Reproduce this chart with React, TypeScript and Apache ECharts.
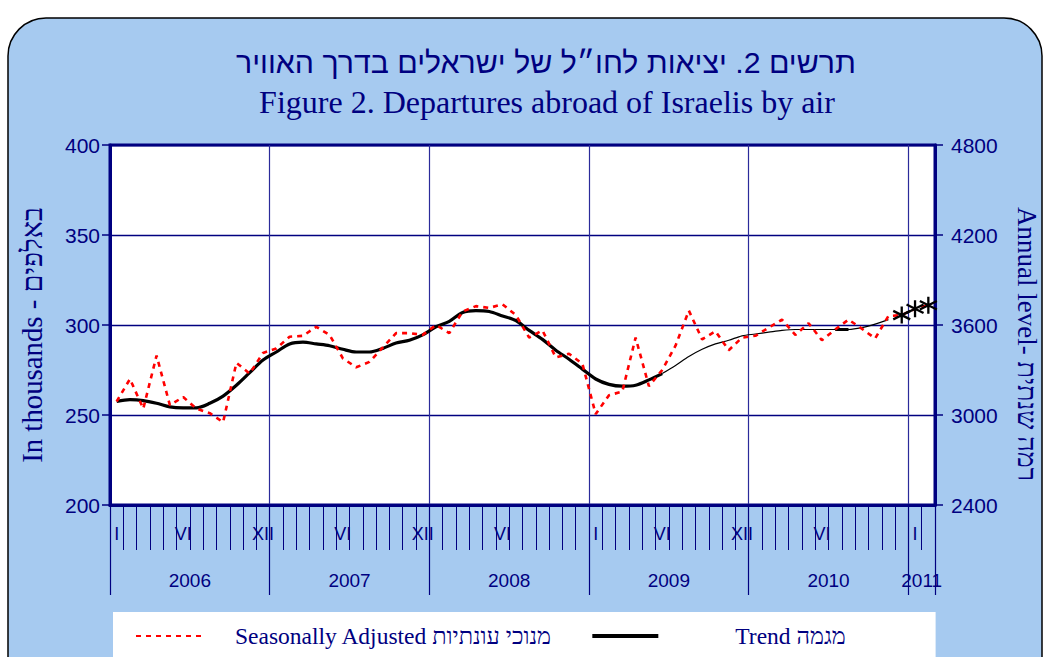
import React, { useEffect, useRef } from 'react';
import * as echarts from 'echarts';

const titleHe = 'תרשים 2. יציאות לחו״ל של ישראלים בדרך האוויר';
const titleEn = 'Figure 2. Departures abroad of Israelis by air';
const leftAxisName = 'In thousands - באלפים';
const rightAxisName = 'Annual level- רמה שנתית';
const saName = 'Seasonally Adjusted מנוכי עונתיות';
const trendName = 'Trend מגמה';

const years = ['2006', '2007', '2008', '2009', '2010', '2011'];
const monthsPerYear = [12, 12, 12, 12, 12, 2];

const monthTickLabels = [
  'I', '', '', '', '', 'VI', '', '', '', '', '', 'XII',
  '', '', '', '', '', 'VI', '', '', '', '', '', 'XII',
  '', '', '', '', '', 'VI', '', '', '', '', '', '',
  'I', '', '', '', '', 'VI', '', '', '', '', '', 'XII',
  '', '', '', '', '', 'VI', '', '', '', '', '', '',
  'I', '',
];

// seasonally adjusted, thousands, Jan 2006 .. Feb 2011
const seasonallyAdjusted = [
  257.5, 270, 253.5, 283, 255.5, 260, 253.5, 251, 246, 279, 273, 284.5,
  287, 293.5, 294, 299, 294.5, 281.5, 276.5, 279.5, 287.5, 295.5, 295.5, 294.5,
  300, 295.5, 307.5, 310.5, 309.5, 311.5, 305.5, 293, 297, 282, 284, 278.5,
  250.5, 261, 263, 293, 266, 275, 288.5, 308, 292, 296.5, 286, 293,
  294, 298.5, 303, 294.5, 301, 291.5, 297.5, 303, 298, 292.5, 305, 305.5,
  309, 311,
];

// trend, Jan 2006 .. Nov 2010
const trend = [
  257.5, 258.5, 258, 256.5, 254.5, 254, 254, 256.5, 260.5, 266.5, 273.5, 280.5,
  285, 289.5, 290.5, 289.5, 288.5, 286.5, 285, 285, 287, 290, 291.5, 294.5,
  299, 302, 307, 308, 307.5, 305, 302.5, 297, 292, 286, 281, 275.5,
  270, 267, 266, 266.5, 269.5, 273, 277.5, 282.5, 286.5, 289.5, 291.5, 294,
  295, 296, 297, 297.5, 297.5, 297.5, 297.5, 297.5, 298.5, 300.5, 303,
];

// trend estimates, Dec 2010 .. Feb 2011 (asterisks)
const trendEstimates = [305.5, 309, 311];

const NAVY = '#000080';

export default function App() {
  const ref = useRef<HTMLDivElement>(null);
  useEffect(() => {
    const chart = echarts.init(ref.current!, null, { renderer: 'svg' });
    const months: string[] = [];
    years.forEach((y, k) => {
      for (let m = 1; m <= monthsPerYear[k]; m++) months.push(y + '-' + m);
    });
    const n = months.length;
    const boundaries = Array.from({ length: n + 1 }, (_, i) => 'b' + i);
    const yearStart: number[] = [];
    let acc = 0;
    monthsPerYear.forEach((c) => { yearStart.push(acc); acc += c; });
    const yearBoundary = new Set<number>([...yearStart, n]);
    const yearCenter = new Map<number, string>();
    years.forEach((y, k) => yearCenter.set(yearStart[k] + monthsPerYear[k] / 2, y));

    const thickEnd = 41;
    const thickTrend = trend.map((v, i) => (i <= thickEnd || i === 54 || i === 55 ? v : null));
    const thinTrend = trend.map((v, i) => (i >= thickEnd ? v : null));
    const estData = trendEstimates.map((v, k) => [n - trendEstimates.length + k, v]);

    const legendText = { fontFamily: '"Liberation Serif", serif', fontSize: 23.5, color: NAVY };

    const option: any = {
      animation: false,
      graphic: [
        {
          type: 'rect', z: -10, silent: true,
          shape: { x: 8, y: 18, width: 1034, height: 720, r: 38 },
          style: { fill: '#A6CAF0', stroke: '#000', lineWidth: 1.5 },
        },
        {
          type: 'text', x: 546, y: 62,
          style: {
            text: titleHe, fill: NAVY, fontSize: 30.3, fontFamily: '"Liberation Sans", "DejaVu Sans", sans-serif',
            align: 'center', verticalAlign: 'middle', textAlign: 'center', textVerticalAlign: 'middle',
          },
        },
        {
          type: 'text', x: 547, y: 102,
          style: {
            text: titleEn, fill: NAVY, fontSize: 32, fontFamily: '"Liberation Serif", serif',
            align: 'center', verticalAlign: 'middle', textAlign: 'center', textVerticalAlign: 'middle',
          },
        },
      ],
      grid: {
        left: 110, right: 110, top: 145, bottom: 152,
        outerBoundsMode: 'none',
        show: true, backgroundColor: '#fff', borderColor: NAVY, borderWidth: 3,
      },
      legend: {
        left: 113, top: 612,
        backgroundColor: '#fff',
        padding: [12, 90, 24, 22],
        itemWidth: 66, itemHeight: 14, itemGap: 38,
        selectedMode: false,
        itemStyle: { opacity: 0 },
        textStyle: { ...legendText, padding: [0, 0, 0, 28] },
        data: [
          { name: saName },
          {
            name: trendName,
            lineStyle: { width: 4, color: '#000', type: 'solid' },
            textStyle: { ...legendText, padding: [0, 0, 0, 72] },
          },
        ],
      },
      xAxis: [
        {
          type: 'category', data: months, boundaryGap: true, position: 'bottom',
          axisLine: { show: true, lineStyle: { color: NAVY, width: 3 } },
          axisTick: { show: true, interval: 0, length: 45, lineStyle: { color: NAVY, width: 1 } },
          axisLabel: {
            interval: 0, margin: 20, color: NAVY, fontSize: 18,
            fontFamily: '"Liberation Sans", Arial, sans-serif',
            formatter: (_v: string, i: number) => monthTickLabels[i],
          },
          splitLine: { show: false },
        },
        {
          type: 'category', data: boundaries, boundaryGap: false, position: 'bottom',
          axisLine: { show: false },
          axisTick: {
            show: true, length: 90, lineStyle: { color: NAVY, width: 1.2 },
            interval: (i: number) => yearBoundary.has(i),
          },
          axisLabel: {
            margin: 66, color: NAVY, fontSize: 19,
            fontFamily: '"Liberation Sans", Arial, sans-serif',
            interval: (i: number) => yearCenter.has(i),
            formatter: (_v: string, i: number) => yearCenter.get(i) || '',
          },
          splitLine: {
            show: true, lineStyle: { color: '#2b2b9a', width: 1.2 },
            interval: (i: number) => yearBoundary.has(i) && i !== 0 && i !== n,
          },
        },
      ],
      yAxis: [
        {
          type: 'value', min: 200, max: 400, interval: 50, position: 'left',
          axisLine: { show: true, lineStyle: { color: NAVY, width: 3 } },
          axisTick: { show: true, length: 8, lineStyle: { color: NAVY, width: 1.5 } },
          axisLabel: { color: NAVY, fontSize: 21, margin: 10, fontFamily: '"Liberation Sans", Arial, sans-serif' },
          splitLine: { show: true, lineStyle: { color: NAVY, width: 1.4 } },
          name: leftAxisName, nameLocation: 'middle', nameGap: 64, nameRotate: 90,
          nameTextStyle: { color: NAVY, fontSize: 28.8, fontFamily: '"Liberation Serif", serif', padding: [0, 20, 0, 0] },
        },
        {
          type: 'value', min: 2400, max: 4800, interval: 600, position: 'right',
          axisLine: { show: true, lineStyle: { color: NAVY, width: 3 } },
          axisTick: { show: true, length: 8, lineStyle: { color: NAVY, width: 1.5 } },
          axisLabel: {
            color: NAVY, fontSize: 21, margin: 16, fontFamily: '"Liberation Sans", Arial, sans-serif',
            formatter: (v: number) => String(v),
          },
          splitLine: { show: false },
          name: rightAxisName, nameLocation: 'middle', nameGap: 78, nameRotate: -90,
          nameTextStyle: { color: NAVY, fontSize: 27, fontFamily: '"Liberation Serif", serif', padding: [0, 0, 0, 38] },
        },
      ],
      series: [
        {
          name: trendName, type: 'line', data: thickTrend, xAxisIndex: 0, yAxisIndex: 0,
          symbol: 'none', smooth: 0.3, connectNulls: false,
          lineStyle: { color: '#000', width: 3.2 }, itemStyle: { color: '#000' }, z: 3,
        },
        {
          name: trendName, type: 'line', data: thinTrend, xAxisIndex: 0, yAxisIndex: 0,
          symbol: 'none', smooth: 0.3, connectNulls: false,
          lineStyle: { color: '#000', width: 1.2 }, itemStyle: { color: '#000' }, z: 3,
        },
        {
          name: saName, type: 'line', data: seasonallyAdjusted, xAxisIndex: 0, yAxisIndex: 0,
          symbol: 'none',
          lineStyle: { color: '#FF0000', width: 2.6, type: [5, 5] }, itemStyle: { color: '#FF0000' }, z: 4,
        },
        {
          type: 'scatter', data: estData, xAxisIndex: 0, yAxisIndex: 0,
          symbol: 'path://M10,0L10,20M1.34,5L18.66,15M1.34,15L18.66,5',
          symbolSize: 17,
          itemStyle: { color: '#000', borderColor: '#000', borderWidth: 2.3, opacity: 1 }, z: 5,
        },
      ],
    };
    chart.setOption(option);
    return () => chart.dispose();
  }, []);
  return (
    <div
      ref={ref}
      style={{ position: 'fixed', left: 0, top: 0, width: 1045, height: 657, background: '#fff' }}
    />
  );
}
